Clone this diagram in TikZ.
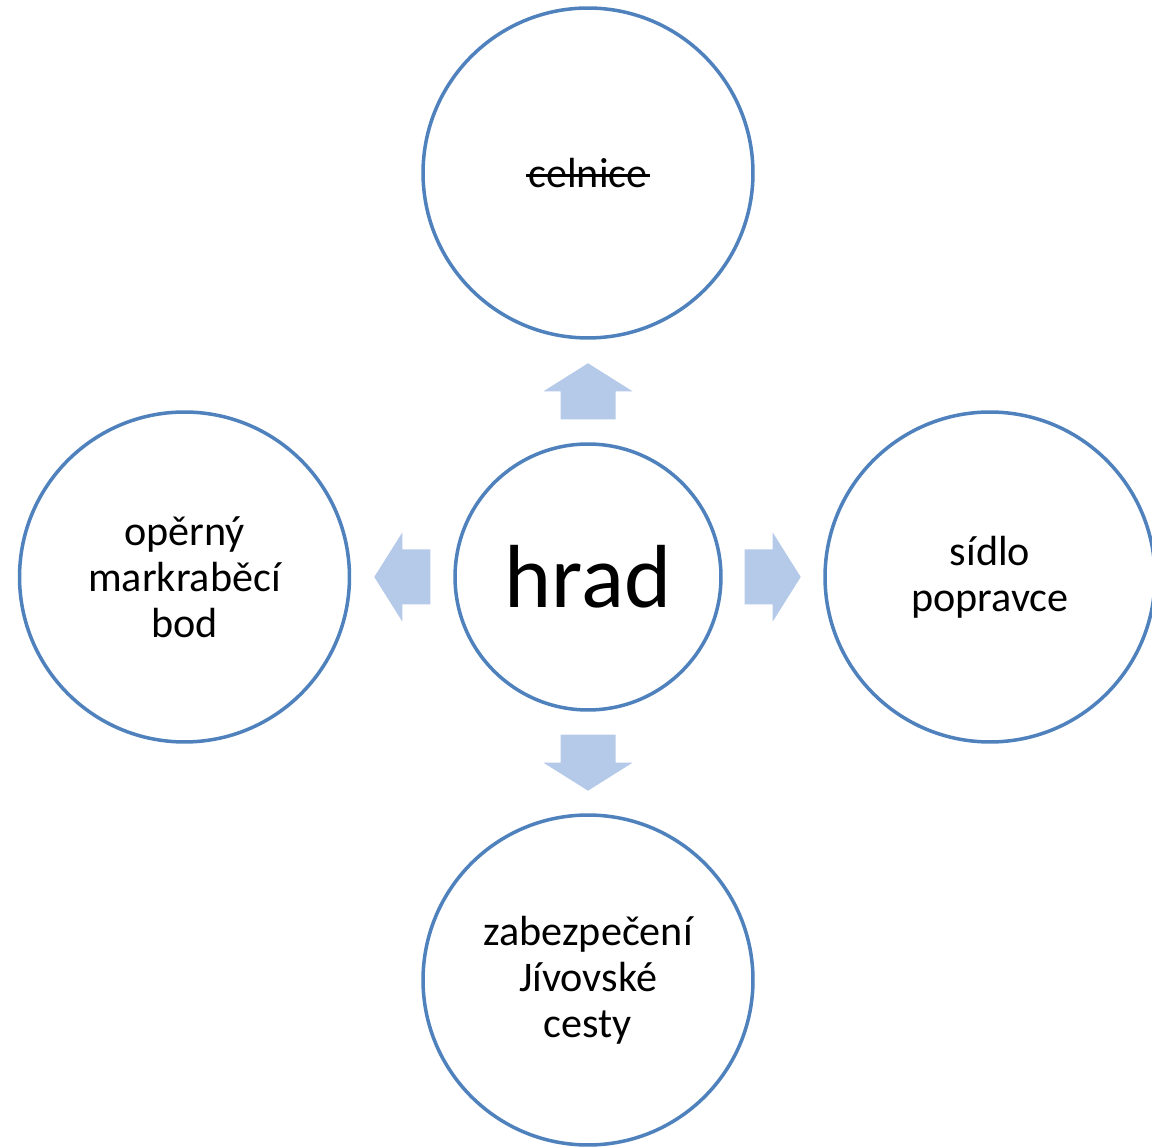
\documentclass[tikz,border=0pt]{standalone}
\usepackage{fontspec}
\setmainfont{Carlito}
\usetikzlibrary{calc}
\definecolor{ringblue}{RGB}{79,129,189}
\definecolor{arrowblue}{RGB}{181,202,232}
\newcommand\struck[1]{\setbox0\hbox{#1}\rlap{\kern-0.05em\rule[0.26em]{\dimexpr\wd0+0.1em\relax}{0.065em}}\box0}
\tikzset{
  ring/.style={circle, draw=ringblue, line width=2pt, align=center,
    font=\fontsize{24}{26.2}\selectfont, inner sep=0pt},
  blockarrow/.pic={\fill[arrowblue] (0,-27.5) -- (28,-27.5) -- (28,-44.5)
    -- (56,0) -- (28,44.5) -- (28,27.5) -- (0,27.5) -- cycle;}
}
\begin{document}
\begin{tikzpicture}[x=0.02cm, y=0.02cm]
  \useasboundingbox (0,0) rectangle (1152,1146);
  \begin{scope}[every node/.style={ring, minimum size=6.6cm}]
    \node (hrad) [minimum size=5.32cm, font=\fontsize{51}{57}\selectfont]
      at (588,569) {hrad};
    \node (celnice) at (588,973) {\struck{celnice}};
    \node (oporny) at (184.5,569) {opěrný\\markraběcí\\bod};
    \node (popravce) at (990,569) {sídlo\\popravce};
    \node (cesta) at (588,166) {zabezpečení\\Jívovské\\cesty};
  \end{scope}
  \pic[rotate=90] at ($(hrad.north)+(0,23)$) {blockarrow};
  \pic[rotate=-90] at ($(hrad.south)+(0,-23)$) {blockarrow};
  \pic at ($(hrad.east)+(22,0)$) {blockarrow};
  \pic[rotate=180] at ($(hrad.west)+(-23,0)$) {blockarrow};
\end{tikzpicture}
\end{document}
